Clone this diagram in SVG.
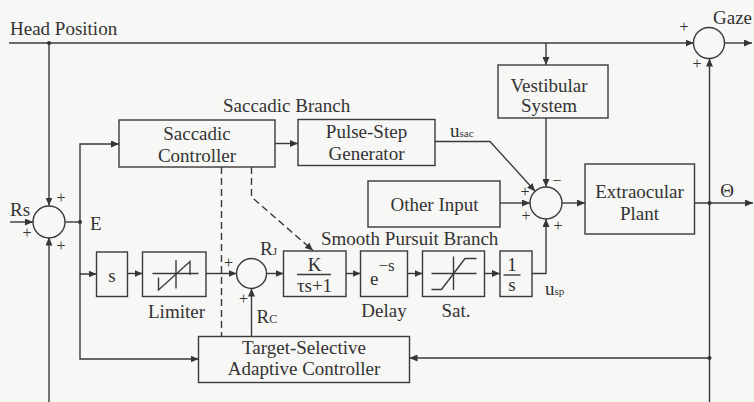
<svg xmlns="http://www.w3.org/2000/svg" width="754" height="402" viewBox="0 0 754 402">
<defs>
<marker id="ah" markerWidth="8" markerHeight="7" refX="8" refY="3.5" orient="auto" markerUnits="userSpaceOnUse">
<path d="M0,0 L8,3.5 L0,7 z" fill="#363636"/>
</marker>
<style>
.bx{fill:none;stroke:#3a3a3a;stroke-width:1.4}
.ln{fill:none;stroke:#3a3a3a;stroke-width:1.4}
.ar{marker-end:url(#ah)}
.da{stroke-dasharray:7 4}
.t{font-family:"Liberation Serif","Times New Roman",serif;font-size:19px;fill:#333}
.c{text-anchor:middle}
.p{font-family:"Liberation Serif","Times New Roman",serif;font-size:16px;fill:#333;text-anchor:middle}
.dot{fill:#333}
</style>
</defs>
<rect width="754" height="402" fill="#f7f7f5"/>

<g id="connectors">
<path class="ln ar" d="M9,43 H693.5"/>
<path class="ln ar" d="M546,43 V65"/>
<path class="ln ar" d="M49,43 V205.5"/>
<path class="ln ar" d="M10,222 H33"/>
<path class="ln ar" d="M49,402 V237.5"/>
<path class="ln" d="M65,222 H80"/>
<path class="ln ar" d="M80,222 V144 H119"/>
<path class="ln ar" d="M80,222 V274 H96.5"/>
<path class="ln ar" d="M80,274 V359 H198.5"/>
<path class="ln ar" d="M275,143.5 H298"/>
<path class="ln ar" d="M435,141.5 H490 L535.2,191.2"/>
<path class="ln ar" d="M546,118 V187"/>
<path class="ln ar" d="M500,203 H530"/>
<path class="ln ar" d="M562,203 H585"/>
<path class="ln ar" d="M694.5,203 H753"/>
<path class="ln ar" d="M709.5,402 V58.5"/>
<path class="ln ar" d="M724.5,43 H752"/>
<path class="ln ar" d="M709.5,358 H409.5"/>
<path class="ln ar" d="M127.5,273.5 H142.5"/>
<path class="ln ar" d="M206,273.5 H236.5"/>
<path class="ln ar" d="M266.5,273.5 H283.5"/>
<path class="ln ar" d="M346,273.5 H360.5"/>
<path class="ln ar" d="M407.5,273.5 H422.5"/>
<path class="ln ar" d="M484.5,273.5 H500"/>
<path class="ln ar" d="M532,273.5 H546 V219"/>
<path class="ln ar" d="M251.5,336.5 V288.5"/>
<path class="ln da" d="M221.5,167 V336.5"/>
<path class="ln da ar" d="M251.5,167 V197 L313,250.5"/>
<circle class="dot" cx="49" cy="43" r="2"/>
<circle class="dot" cx="80" cy="222" r="2"/>
<circle class="dot" cx="709.5" cy="203" r="2"/>
<circle class="dot" cx="709.5" cy="358" r="2"/>
</g>

<g id="head-position">
<text class="t" x="10" y="35">Head Position</text>
</g>

<g id="sum-gaze">
<circle class="bx" cx="709" cy="43" r="15.5"/>
<text class="p" x="684" y="32">+</text>
<text class="p" x="697" y="69">+</text>
<text class="t" x="713" y="24">Gaze</text>
</g>

<g id="sum-e">
<circle class="bx" cx="49" cy="222" r="16"/>
<text class="t" x="10" y="216">Rs</text>
<text class="p" x="61" y="203">+</text>
<text class="p" x="27" y="238">+</text>
<text class="p" x="61" y="251">+</text>
<text class="t" x="90" y="230">E</text>
</g>

<g id="saccadic-branch-label">
<text class="t" x="223" y="112">Saccadic Branch</text>
</g>

<g id="saccadic-controller">
<rect class="bx" x="119" y="120" width="156" height="47"/>
<text class="t c" x="197" y="139.5">Saccadic</text>
<text class="t c" x="197" y="161.5">Controller</text>
</g>

<g id="pulse-step">
<rect class="bx" x="298" y="119.5" width="137" height="46"/>
<text class="t c" x="366.5" y="138">Pulse-Step</text>
<text class="t c" x="366.5" y="160">Generator</text>
<text class="t" x="450" y="137" font-size="14">u<tspan font-size="11">sac</tspan></text>
</g>

<g id="vestibular">
<rect class="bx" x="498" y="65" width="110" height="53"/>
<text class="t c" x="549" y="91.5">Vestibular</text>
<text class="t c" x="549" y="111.5">System</text>
</g>

<g id="other-input">
<rect class="bx" x="368" y="181" width="132" height="46"/>
<text class="t c" x="434.5" y="211">Other Input</text>
</g>

<g id="sum-main">
<circle class="bx" cx="546" cy="203" r="16"/>
<text class="p" x="557" y="186">−</text>
<text class="p" x="525" y="197">+</text>
<text class="p" x="526" y="221">+</text>
<text class="p" x="558" y="231">+</text>
</g>

<g id="extraocular-plant">
<rect class="bx" x="585" y="164" width="109.5" height="70"/>
<text class="t c" x="639.5" y="198">Extraocular</text>
<text class="t c" x="639.5" y="220">Plant</text>
<text class="t c" x="727" y="197">Θ</text>
</g>

<g id="smooth-pursuit-label">
<text class="t" x="321" y="245">Smooth Pursuit Branch</text>
</g>

<g id="s-block">
<rect class="bx" x="96.5" y="252" width="31" height="44.5"/>
<text class="t c" x="112" y="282">s</text>
</g>

<g id="limiter">
<rect class="bx" x="142.5" y="252" width="63.5" height="44.5"/>
<path class="ln" stroke-width="1" d="M152.5,273.5 H198.5 M176,260 V288.5"/>
<path class="ln" d="M158.5,277.5 V290 L190,261.5 V275"/>
<text class="t c" x="176.5" y="318">Limiter</text>
</g>

<g id="sum-rj">
<circle class="bx" cx="251.5" cy="273.5" r="15"/>
<text class="p" x="228.5" y="267.5">+</text>
<text class="p" x="243.5" y="304">+</text>
<text class="t" x="260" y="255" font-size="16">R<tspan font-size="11">J</tspan></text>
<text class="t" x="256.5" y="323" font-size="16">R<tspan font-size="12">C</tspan></text>
</g>

<g id="k-block">
<rect class="bx" x="283.5" y="251" width="62.5" height="45.5"/>
<text class="t c" x="314.5" y="271" font-size="17">K</text>
<path class="ln" stroke-width="1.2" d="M297,274.5 H331"/>
<text class="t c" x="314.5" y="291.5" font-size="17">τs+1</text>
</g>

<g id="delay">
<rect class="bx" x="360.5" y="251" width="47" height="45.5"/>
<text class="t" x="370" y="285">e<tspan font-size="17" dy="-14">−s</tspan></text>
<text class="t c" x="384" y="317">Delay</text>
</g>

<g id="sat">
<rect class="bx" x="422.5" y="251" width="62" height="45.5"/>
<path class="ln" stroke-width="1" d="M431.5,273.5 H476.5 M453.5,256.5 V290"/>
<path class="ln" d="M431.5,289.5 H441.5 L465,258.5 H476.5"/>
<text class="t c" x="456" y="317">Sat.</text>
</g>

<g id="integrator">
<rect class="bx" x="500" y="251" width="32" height="45.5"/>
<text class="t c" x="512" y="270.5" font-size="16">1</text>
<path class="ln" stroke-width="1.2" d="M503.5,275 H520.5"/>
<text class="t c" x="512" y="290.5" font-size="16">s</text>
<text class="t" x="545" y="295" font-size="14">u<tspan font-size="11">sp</tspan></text>
</g>

<g id="target-selective">
<rect class="bx" x="198.5" y="336.5" width="211" height="46"/>
<text class="t c" x="304" y="353.5">Target-Selective</text>
<text class="t c" x="304" y="375">Adaptive Controller</text>
</g>
</svg>
